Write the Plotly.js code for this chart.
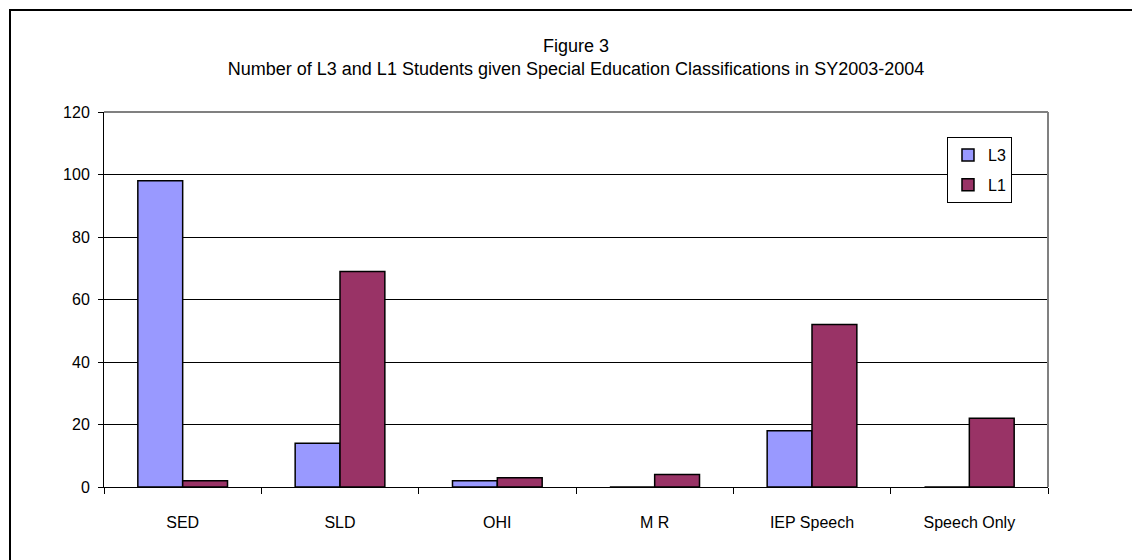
<!DOCTYPE html>
<html>
<head>
<meta charset="utf-8">
<script src="https://cdn.plot.ly/plotly-3.0.1.min.js"></script>
<style>
  html, body { margin: 0; padding: 0; background: #fff; overflow: hidden; }
  #chart { position: absolute; left: 0; top: 0; width: 1132px; height: 560px; }
  #frame { position: absolute; left: 9px; top: 9px; width: 1200px; height: 700px; border: 2px solid #000; pointer-events: none; }
</style>
</head>
<body>
<div id="chart"></div>
<div id="frame"></div>
<script>
const categories = ["SED", "SLD", "OHI", "M R", "IEP Speech", "Speech Only"];
const seriesNames = ["L3", "L1"];
const l3Values = [98, 14, 2, 0, 18, 0];
const l1Values = [2, 69, 3, 4, 52, 22];
const yTickVals = [0, 20, 40, 60, 80, 100, 120];
const yTickText = ["0", "20", "40", "60", "80", "100", "120"];

const FONT = "Liberation Sans, Arial, sans-serif";

const traces = [
  {
    type: "bar", name: seriesNames[0], x: categories, y: l3Values,
    legendgroup: "a",
    marker: { color: "#9999FF", line: { color: "#000", width: 1.5 } },
    hoverinfo: "x+y"
  },
  {
    type: "bar", name: seriesNames[1], x: categories, y: l1Values,
    legendgroup: "b",
    marker: { color: "#993366", line: { color: "#000", width: 1.5 } },
    hoverinfo: "x+y"
  }
];

const layout = {
  width: 1132, height: 560,
  margin: { l: 104, r: 84, t: 112, b: 73, pad: 0 },
  paper_bgcolor: "#fff", plot_bgcolor: "#fff",
  font: { family: FONT, size: 16, color: "#000" },
  barmode: "group",
  bargap: 0.43, bargroupgap: 0,
  title: {
    text: "Figure 3<br>Number of L3 and L1 Students given Special Education Classifications in SY2003-2004",
    font: { family: FONT, size: 18, color: "#000" },
    x: 0.5, xref: "paper", xanchor: "center",
    y: 1 - 52 / 560, yref: "container", yanchor: "top"
  },
  xaxis: {
    type: "category",
    showgrid: false, zeroline: false,
    showline: true, linecolor: "#000", linewidth: 1,
    ticks: "outside", tickson: "boundaries", ticklen: 6, tickcolor: "#000", tickwidth: 1,
    ticklabelstandoff: 21,
    tickfont: { family: FONT, size: 16, color: "#000" },
    fixedrange: true
  },
  yaxis: {
    range: [0, 120],
    tickvals: yTickVals, ticktext: yTickText,
    showgrid: true, gridcolor: "#000", gridwidth: 1,
    zeroline: false,
    showline: true, linecolor: "#000", linewidth: 1,
    ticks: "outside", ticklen: 5, tickcolor: "#000", tickwidth: 1,
    ticklabelstandoff: 5,
    tickfont: { family: FONT, size: 16, color: "#000" },
    fixedrange: true
  },
  showlegend: true,
  legend: {
    x: 0.893, y: 0.9333, xanchor: "left", yanchor: "top",
    bgcolor: "#fff", bordercolor: "#000", borderwidth: 1,
    font: { family: FONT, size: 16, color: "#000" },
    tracegroupgap: 6,
    itemwidth: 30
  },
  shapes: [
    { type: "line", xref: "paper", yref: "paper", x0: 0, x1: 1, y0: 1, y1: 1, line: { color: "#808080", width: 2 }, layer: "above" },
    { type: "line", xref: "paper", yref: "paper", x0: 1, x1: 1, y0: 0, y1: 1, line: { color: "#808080", width: 2 }, layer: "above" }
  ]
};

Plotly.newPlot("chart", traces, layout, { displayModeBar: false, staticPlot: true });
</script>
</body>
</html>
